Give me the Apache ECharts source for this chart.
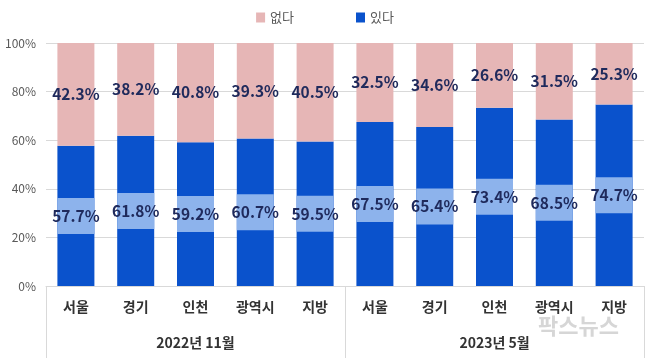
<!DOCTYPE html>
<html><head><meta charset="utf-8">
<script src="https://cdn.jsdelivr.net/npm/echarts@6/dist/echarts.min.js"></script>
<style>html,body{margin:0;padding:0;background:#fff}#c{width:650px;height:360px}</style>
</head><body><div id="c"></div>
<script>
const regions = ['서울','경기','인천','광역시','지방','서울','경기','인천','광역시','지방'];
const periods = ['2022년 11월','2023년 5월'];
const yes = [57.7, 61.8, 59.2, 60.7, 59.5, 67.5, 65.4, 73.4, 68.5, 74.7];
const no = [42.3, 38.2, 40.8, 39.3, 40.5, 32.5, 34.6, 26.6, 31.5, 25.3];
const yTicks = [0, 20, 40, 60, 80, 100];

const FONT = '"Noto Sans CJK KR", sans-serif';
const chart = echarts.init(document.getElementById('c'));
chart.setOption({
  animation: false,
  textStyle: {fontFamily: FONT},
  legend: {
    top: 6, left: 'center', itemWidth: 9, itemHeight: 10, itemGap: 62,
    icon: 'rect',
    data: ['없다','있다'],
    textStyle: {fontSize: 13, color: '#595959', fontFamily: FONT}
  },
  grid: {left: 46, right: 6, top: 43, bottom: 74},
  xAxis: [{
    type: 'category', data: regions,
    axisLine: {lineStyle: {color: '#d9d9d9'}},
    axisTick: {show: true, length: 72, lineStyle: {color: '#d9d9d9'}, interval: function(i){return i===0;}},
    axisLabel: {fontSize: 14, color: '#333', margin: 14, fontFamily: FONT, fontWeight: 'bold'}
  },{
    type: 'category', data: periods, position: 'bottom',
    axisLine: {show: false},
    axisTick: {show: true, length: 72, lineStyle: {color: '#d9d9d9'}, inside: false},
    axisLabel: {fontSize: 14, color: '#333', margin: 50, fontFamily: FONT, fontWeight: 'bold'}
  }],
  yAxis: {
    type: 'value', min: yTicks[0], max: yTicks[yTicks.length-1], interval: 20,
    axisLabel: {formatter: '{value}%', color: '#595959', fontSize: 12, margin: 10, fontFamily: FONT},
    splitLine: {lineStyle: {color: '#d9d9d9'}},
    axisLine: {show: false}, axisTick: {show: false}
  },
  series: [{
    name: '있다', type: 'bar', stack: 'a', data: yes, barWidth: 37,
    itemStyle: {color: '#0a52cc'},
    label: {
      show: true, position: 'inside', formatter: '{c}%',
      color: '#1f2a5c', fontSize: 15.5, fontWeight: 'bold', fontFamily: FONT,
      backgroundColor: '#8db3ec', width: 37, height: 36, lineHeight: 36,
      align: 'center', overflow: 'none'
    }
  },{
    name: '없다', type: 'bar', stack: 'a', data: no, barWidth: 37,
    itemStyle: {color: '#e6b6b6'},
    label: {
      show: true, position: 'inside', formatter: '{c}%',
      color: '#1f2a5c', fontSize: 15.5, fontWeight: 'bold', fontFamily: FONT
    }
  }],
  graphic: [{
    type: 'text', left: 538, top: 315,
    style: {text: '팍스뉴스', fill: '#d6d6d6', font: 'bold 22px ' + FONT}
  }]
});
</script></body></html>
